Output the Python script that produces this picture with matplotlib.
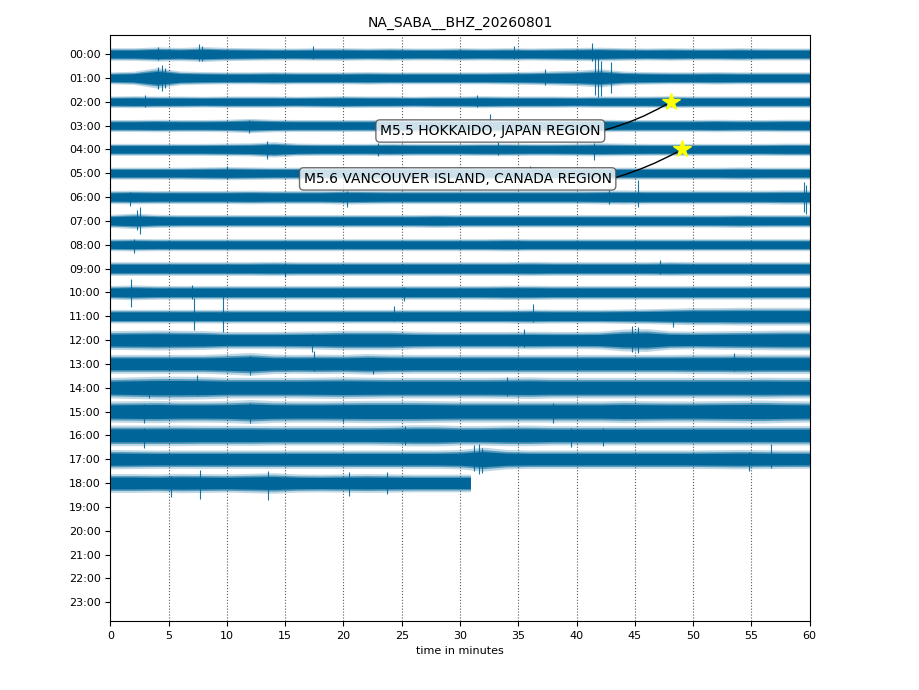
import matplotlib
matplotlib.use("Agg")
import matplotlib.pyplot as plt
import numpy as np

TITLE = "NA_SABA__BHZ_20260801"
HOUR_LABELS = ["%02d:00" % h for h in range(24)]
MINUTE_TICKS = list(range(0, 61, 5))

# envelope (half amplitude of the solid-ish band, in row units) sampled every 2 minutes
minute_grid = list(range(0, 61, 2))
minute_grid_last = list(range(0, 31, 2)) + [30.9]

env_rows = [
    [0.22,0.22,0.25,0.23,0.26,0.23,0.22,0.21,0.21,0.22,0.22,0.21,0.22,0.21,0.21,0.22,0.21,0.22,0.21,0.22,0.23,0.24,0.22,0.21,0.22,0.21,0.21,0.22,0.21,0.21,0.21],
    [0.21,0.23,0.36,0.24,0.22,0.21,0.21,0.22,0.21,0.21,0.21,0.22,0.21,0.21,0.21,0.21,0.21,0.22,0.23,0.25,0.27,0.32,0.24,0.22,0.21,0.21,0.22,0.21,0.21,0.21,0.21],
    [0.20,0.21,0.20,0.20,0.19,0.20,0.20,0.20,0.19,0.20,0.21,0.20,0.20,0.19,0.20,0.20,0.21,0.20,0.20,0.20,0.19,0.20,0.20,0.20,0.21,0.20,0.20,0.20,0.20,0.20,0.20],
    [0.21,0.21,0.22,0.21,0.21,0.22,0.25,0.22,0.21,0.21,0.21,0.21,0.22,0.21,0.21,0.21,0.22,0.21,0.21,0.21,0.21,0.22,0.21,0.21,0.21,0.21,0.22,0.21,0.21,0.22,0.22],
    [0.21,0.21,0.21,0.21,0.21,0.22,0.23,0.27,0.22,0.21,0.21,0.21,0.22,0.21,0.21,0.21,0.22,0.22,0.21,0.21,0.22,0.23,0.22,0.21,0.21,0.21,0.21,0.21,0.21,0.22,0.22],
    [0.21,0.21,0.21,0.21,0.22,0.23,0.22,0.21,0.21,0.21,0.21,0.21,0.22,0.21,0.21,0.21,0.21,0.21,0.22,0.21,0.21,0.21,0.21,0.21,0.21,0.21,0.21,0.22,0.21,0.21,0.21],
    [0.23,0.24,0.23,0.23,0.23,0.23,0.24,0.23,0.23,0.23,0.25,0.24,0.23,0.23,0.23,0.23,0.23,0.23,0.23,0.23,0.23,0.24,0.25,0.24,0.24,0.24,0.24,0.24,0.24,0.25,0.25],
    [0.23,0.27,0.23,0.22,0.22,0.22,0.22,0.22,0.22,0.22,0.22,0.22,0.22,0.22,0.23,0.22,0.22,0.22,0.22,0.22,0.22,0.22,0.22,0.22,0.22,0.22,0.22,0.23,0.22,0.22,0.22],
    [0.21,0.22,0.21,0.21,0.21,0.21,0.21,0.21,0.21,0.21,0.21,0.21,0.21,0.21,0.21,0.21,0.21,0.22,0.21,0.21,0.21,0.21,0.21,0.21,0.21,0.21,0.21,0.21,0.21,0.21,0.21],
    [0.24,0.24,0.24,0.24,0.24,0.24,0.24,0.25,0.24,0.24,0.24,0.24,0.24,0.24,0.24,0.24,0.24,0.24,0.25,0.24,0.24,0.24,0.24,0.24,0.25,0.24,0.24,0.24,0.24,0.24,0.24],
    [0.24,0.26,0.24,0.24,0.24,0.24,0.24,0.24,0.24,0.24,0.24,0.24,0.24,0.24,0.24,0.24,0.24,0.25,0.25,0.24,0.24,0.24,0.24,0.24,0.24,0.24,0.24,0.24,0.24,0.24,0.24],
    [0.24,0.24,0.24,0.24,0.24,0.24,0.24,0.24,0.24,0.24,0.24,0.24,0.24,0.24,0.24,0.24,0.24,0.24,0.25,0.24,0.24,0.24,0.25,0.26,0.28,0.30,0.30,0.31,0.31,0.31,0.31],
    [0.33,0.34,0.35,0.34,0.33,0.30,0.30,0.30,0.31,0.32,0.34,0.34,0.34,0.31,0.30,0.30,0.30,0.30,0.31,0.30,0.30,0.31,0.38,0.40,0.32,0.31,0.32,0.33,0.34,0.35,0.35],
    [0.33,0.33,0.33,0.33,0.33,0.36,0.40,0.34,0.33,0.34,0.33,0.36,0.34,0.33,0.33,0.33,0.33,0.33,0.33,0.33,0.33,0.33,0.33,0.33,0.33,0.34,0.34,0.35,0.34,0.34,0.34],
    [0.36,0.38,0.40,0.40,0.39,0.36,0.36,0.36,0.36,0.37,0.38,0.37,0.36,0.36,0.36,0.36,0.36,0.37,0.38,0.36,0.36,0.36,0.36,0.36,0.36,0.36,0.36,0.36,0.37,0.36,0.36],
    [0.37,0.38,0.39,0.37,0.37,0.38,0.42,0.38,0.37,0.37,0.38,0.39,0.39,0.39,0.38,0.37,0.37,0.37,0.37,0.37,0.37,0.37,0.39,0.38,0.37,0.37,0.38,0.39,0.40,0.38,0.37],
    [0.36,0.36,0.36,0.36,0.35,0.35,0.35,0.34,0.34,0.34,0.34,0.34,0.35,0.37,0.37,0.34,0.34,0.36,0.36,0.34,0.34,0.34,0.34,0.34,0.34,0.34,0.34,0.34,0.34,0.34,0.34],
    [0.34,0.33,0.32,0.32,0.32,0.32,0.32,0.32,0.32,0.32,0.32,0.32,0.32,0.32,0.32,0.34,0.42,0.34,0.32,0.32,0.32,0.32,0.32,0.32,0.32,0.32,0.33,0.34,0.33,0.32,0.32],
    [0.33,0.33,0.32,0.34,0.33,0.32,0.34,0.36,0.32,0.31,0.32,0.33,0.32,0.31,0.31,0.31,0.31],
]

# isolated spikes: (hour row, minute, upward extent, downward extent)
spikes = [
    (0, 4.1, 0.30, 0.25), (0, 7.6, 0.42, 0.30), (0, 7.9, 0.32, 0.28), (0, 17.4, 0.32, 0.22),
    (0, 34.6, 0.34, 0.22), (0, 41.3, 0.48, 0.30),
    (1, 4.1, 0.45, 0.45), (1, 4.4, 0.52, 0.56), (1, 4.7, 0.40, 0.42), (1, 37.3, 0.36, 0.28),
    (1, 41.6, 0.82, 0.72), (1, 41.8, 0.88, 0.80), (1, 42.1, 0.70, 0.76), (1, 43.0, 0.68, 0.62),
    (2, 3.0, 0.28, 0.22), (2, 31.5, 0.30, 0.22),
    (3, 11.9, 0.24, 0.33), (3, 32.6, 0.48, 0.22),
    (4, 13.4, 0.36, 0.42), (4, 23.0, 0.26, 0.30), (4, 33.3, 0.32, 0.22), (4, 41.5, 0.26, 0.45),
    (5, 10.0, 0.30, 0.22), (5, 36.0, 0.30, 0.30),
    (6, 1.7, 0.22, 0.36), (6, 20.3, 0.26, 0.42), (6, 42.8, 0.30, 0.30), (6, 45.3, 0.72, 0.42),
    (6, 59.5, 0.64, 0.62), (6, 59.7, 0.50, 0.70),
    (7, 2.3, 0.45, 0.40), (7, 2.5, 0.60, 0.56),
    (8, 2.0, 0.22, 0.33),
    (9, 15.0, 0.22, 0.36), (9, 47.2, 0.36, 0.22),
    (10, 1.8, 0.56, 0.60), (10, 7.0, 0.32, 0.26), (10, 25.2, 0.22, 0.36),
    (11, 7.2, 0.78, 0.60), (11, 9.7, 0.92, 0.68), (11, 24.3, 0.42, 0.22), (11, 36.3, 0.50, 0.26),
    (11, 48.3, 0.22, 0.46),
    (12, 17.3, 0.25, 0.50), (12, 35.5, 0.46, 0.28), (12, 44.8, 0.60, 0.50), (12, 45.3, 0.55, 0.55),
    (13, 12.0, 0.32, 0.46), (13, 17.5, 0.52, 0.30), (13, 22.5, 0.30, 0.42), (13, 53.5, 0.45, 0.30),
    (14, 3.3, 0.30, 0.45), (14, 7.4, 0.55, 0.30), (14, 34.0, 0.45, 0.35),
    (15, 2.9, 0.30, 0.50), (15, 12.0, 0.35, 0.50), (15, 20.0, 0.30, 0.45), (15, 38.0, 0.35, 0.50),
    (16, 2.9, 0.30, 0.55), (16, 25.3, 0.40, 0.40), (16, 39.5, 0.30, 0.50), (16, 42.3, 0.30, 0.45),
    (17, 31.2, 0.58, 0.50), (17, 31.6, 0.65, 0.62), (17, 31.9, 0.45, 0.58), (17, 54.8, 0.30, 0.48),
    (17, 56.7, 0.65, 0.35),
    (18, 5.2, 0.30, 0.60), (18, 7.7, 0.56, 0.67), (18, 13.5, 0.50, 0.73), (18, 20.5, 0.45, 0.55),
    (18, 23.7, 0.48, 0.47),
]

event_labels = ["M5.5 HOKKAIDO, JAPAN REGION", "M5.6 VANCOUVER ISLAND, CANADA REGION"]
event_minutes = [48.1, 49.05]
event_rows = [2, 4]
label_minutes = [32.6, 29.8]
label_rows = [3.23, 5.24]

COLOR = "#006699"
# band rendering layers: (fraction of envelope, alpha)
LAYERS = [(1.2, 0.25), (0.95, 0.55), (0.75, 1.0)]

fig = plt.figure(figsize=(9.2, 6.9), dpi=100)
ax = fig.add_axes([0.12, 0.1, 0.76, 0.849])

for h, env in enumerate(env_rows):
    xs = np.array(minute_grid_last if len(env) != len(minute_grid) else minute_grid, dtype=float)
    e = np.array(env)
    for frac, a in LAYERS:
        ax.fill_between(xs, h - frac * e, h + frac * e, color=COLOR, alpha=a, lw=0, zorder=2)

for h, m, up, down in spikes:
    ax.vlines(m, h - up, h + down, color=COLOR, lw=0.8, alpha=0.9, zorder=3)

for lab, em, er, lm, lr in zip(event_labels, event_minutes, event_rows, label_minutes, label_rows):
    ax.annotate(lab, xy=(em, er), xytext=(lm, lr), ha="center", va="center", fontsize=10,
                bbox=dict(boxstyle="round", fc="white", ec="0.3", alpha=0.8),
                arrowprops=dict(arrowstyle="-", connectionstyle="arc3,rad=0.2", color="black", lw=1,
                                shrinkA=0, shrinkB=4),
                zorder=5)
    ax.plot(em, er, marker="*", color="yellow", markersize=13, markeredgecolor="yellow", zorder=6)

ax.set_xlim(0, 60)
ax.set_ylim(23.79, -0.79)
ax.set_yticks(range(24))
ax.set_yticklabels(HOUR_LABELS)
ax.set_xticks(MINUTE_TICKS)
ax.tick_params(labelsize=8)
ax.xaxis.grid(True, linestyle=":", color="0.35", lw=0.8, zorder=0)
ax.set_axisbelow(True)
ax.set_xlabel("time in minutes", fontsize=8)
ax.set_title(TITLE, fontsize=10)

fig.savefig("out.png", dpi=100)
